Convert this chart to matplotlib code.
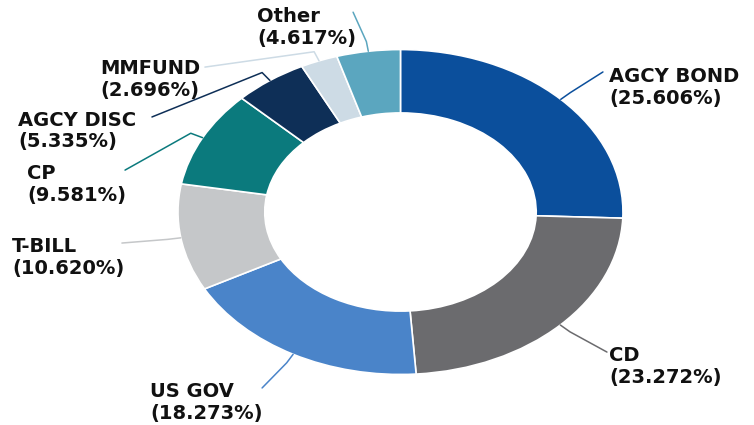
# Donut chart of portfolio composition by security type

import numpy as np
import matplotlib.pyplot as plt

# Data
labels = ['AGCY BOND', 'CD', 'US GOV', 'T-BILL', 'CP', 'AGCY DISC', 'MMFUND', 'Other']
shares = [25.606, 23.272, 18.273, 10.620, 9.581, 5.335, 2.696, 4.617]
colors = ['#0b4f9c', '#6b6b6e', '#4a84c9', '#c5c7c9', '#0b7a7d', '#0e2f57', '#cddbe5', '#5ba6bf']

# Layout: where each label block sits (left edge, vertical centre) and where its leader line ends
text_pos = [(0.937, 0.766), (0.937, -0.951), (-1.126, -1.172), (-1.746, -0.28),
            (-1.679, 0.169), (-1.719, 0.50), (-1.351, 0.815), (-0.645, 1.135)]
line_end = [(0.91, 0.862), (0.928, -0.862), (-0.622, -1.083), (-1.252, -0.191),
            (-1.238, 0.258), (-1.117, 0.585), (-0.879, 0.892), (-0.213, 1.23)]

fig = plt.figure(figsize=(7.54, 4.25), dpi=100)
ax = fig.add_axes([0, 0, 1, 1])

wedges, _ = ax.pie(shares, colors=colors, startangle=90, counterclock=False, radius=1.0,
                   wedgeprops=dict(width=0.39, edgecolor='white', linewidth=1.2))

# Leader lines and labels
for w, name, val, col, tp, le in zip(wedges, labels, shares, colors, text_pos, line_end):
    mid = np.deg2rad((w.theta1 + w.theta2) / 2)
    xs = [np.cos(mid) * 1.0, np.cos(mid) * 1.06, le[0]]
    ys = [np.sin(mid) * 1.0, np.sin(mid) * 1.06, le[1]]
    ax.plot(xs, ys, color=col, lw=1.1, solid_capstyle='round')
    ax.text(tp[0], tp[1], f'{name}\n({val:.3f}%)', ha='left', va='center',
            fontsize=14, fontweight='bold', color='#111111', linespacing=1.15,
            family='DejaVu Sans')

# stretched (non-equal) aspect like the reference
ax.set_aspect('auto')
ax.set_xlim(-1.8, 1.589)
ax.set_ylim(-1.311, 1.305)
ax.axis('off')

fig.savefig('out.png', dpi=100, facecolor='white')
